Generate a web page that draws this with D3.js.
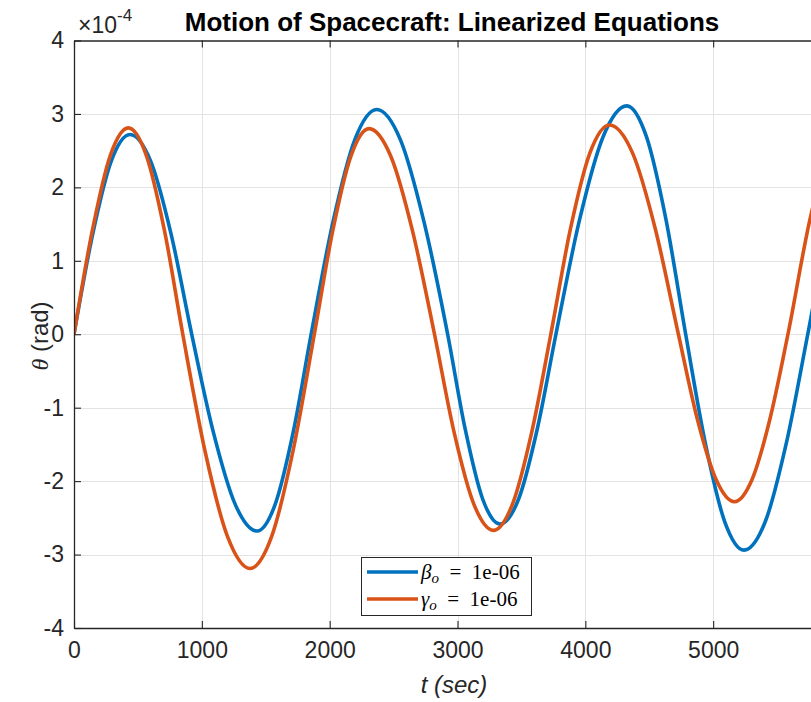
<!DOCTYPE html>
<html>
<head>
<meta charset="utf-8">
<script src="https://cdn.jsdelivr.net/npm/d3@7"></script>
<style>
  body { margin: 0; background: #fff; }
  svg { display: block; overflow: hidden; }
</style>
</head>
<body>
<script>
// Pitch angle theta (units of 1e-4 rad) versus time t (sec)
const tBeta = [0, 146, 292, 438, 599, 760, 921, 1091, 1262, 1432, 1573, 1714, 1855,
  2026, 2197, 2368, 2553, 2738, 2923, 3060, 3196, 3333, 3479, 3624, 3770,
  3955, 4139, 4324, 4478, 4631, 4785, 4937, 5090, 5242, 5408, 5574, 5740, 5900, 6000];
const thetaBeta = [0, 1.36, 2.36, 2.72, 2.36, 1.36, 0, -1.34, -2.32, -2.68, -2.32, -1.34, 0,
  1.53, 2.65, 3.06, 2.65, 1.53, 0, -1.29, -2.24, -2.585, -2.24, -1.29, 0,
  1.56, 2.69, 3.11, 2.69, 1.56, 0, -1.47, -2.55, -2.94, -2.55, -1.47, 0, 1.45, 2.2];

const tGamma = [0, 142, 283, 425, 567, 709, 851, 1026, 1202, 1377, 1545, 1712, 1880,
  2023, 2165, 2308, 2479, 2649, 2820, 2974, 3127, 3281, 3431, 3580, 3730,
  3883, 4036, 4189, 4369, 4548, 4728, 4874, 5021, 5167, 5306, 5446, 5585, 5767, 5900, 6000];
const thetaGamma = [0, 1.40, 2.43, 2.81, 2.43, 1.40, 0, -1.60, -2.76, -3.19, -2.76, -1.60, 0,
  1.40, 2.42, 2.80, 2.42, 1.40, 0, -1.34, -2.31, -2.67, -2.31, -1.34, 0,
  1.43, 2.47, 2.85, 2.47, 1.43, 0, -1.14, -1.97, -2.28, -1.97, -1.14, 0, 1.64, 2.45, 2.75];

const xTicks = [0, 1000, 2000, 3000, 4000, 5000];
const yTicks = [-4, -3, -2, -1, 0, 1, 2, 3, 4];
const seriesNames = ["beta", "gamma"];
const seriesColors = ["#0072BD", "#D95319"];

const W = 811, H = 702;
const plotLeft = 74, plotRight = 841, plotTop = 40.5, plotBottom = 628;
const ink = "#262626";

const svg = d3.select("body").append("svg").attr("width", W).attr("height", H);

const x = d3.scaleLinear().domain([0, 6000]).range([plotLeft, plotRight]);
const y = d3.scaleLinear().domain([-4, 4]).range([plotBottom, plotTop]);

// grid
const grid = svg.append("g").attr("stroke", "#e3e3e3").attr("stroke-width", 1);
grid.selectAll("line.v").data(xTicks.slice(1)).join("line").attr("class", "v")
  .attr("x1", d => Math.round(x(d)) + 0.5).attr("x2", d => Math.round(x(d)) + 0.5)
  .attr("y1", plotTop).attr("y2", plotBottom);
grid.selectAll("line.h").data(yTicks.slice(1, -1)).join("line").attr("class", "h")
  .attr("x1", plotLeft).attr("x2", plotRight)
  .attr("y1", d => Math.round(y(d)) + 0.5).attr("y2", d => Math.round(y(d)) + 0.5);

// curves
svg.append("clipPath").attr("id", "plotClip").append("rect")
  .attr("x", plotLeft).attr("y", plotTop).attr("width", plotRight - plotLeft).attr("height", plotBottom - plotTop);

const line = d3.line().x(d => x(d[0])).y(d => y(d[1])).curve(d3.curveMonotoneX);
const series = [
  d3.zip(tBeta, thetaBeta),
  d3.zip(tGamma, thetaGamma)
];
svg.append("g").attr("clip-path", "url(#plotClip)")
  .selectAll("path").data(series).join("path")
  .attr("d", line)
  .attr("fill", "none")
  .attr("stroke", (d, i) => seriesColors[i])
  .attr("stroke-width", 3.6)
  .attr("stroke-linejoin", "round");

// axes
const fontFam = "'Liberation Sans', Arial, Helvetica, sans-serif";
const plainNum = d => String(d);
function styleAxis(g) {
  g.selectAll("path.domain").attr("stroke", ink).attr("stroke-width", 1.3);
  g.selectAll(".tick line").attr("stroke", ink).attr("stroke-width", 1.1);
  g.selectAll(".tick text").attr("fill", ink).attr("font-size", 23).attr("font-family", fontFam);
}
svg.append("g").attr("transform", `translate(0,${plotBottom})`)
  .call(d3.axisBottom(x).tickValues(xTicks).tickSizeInner(-7).tickSizeOuter(0).tickPadding(14).tickFormat(plainNum))
  .call(styleAxis);
svg.append("g").attr("transform", `translate(0,${plotTop})`)
  .call(d3.axisTop(x).tickValues(xTicks).tickSizeInner(-7).tickSizeOuter(0).tickFormat(""))
  .call(styleAxis);
svg.append("g").attr("transform", `translate(${plotLeft},0)`)
  .call(d3.axisLeft(y).tickValues(yTicks).tickSizeInner(-7).tickSizeOuter(0).tickPadding(10).tickFormat(plainNum))
  .call(styleAxis);

// exponent marker
const expo = svg.append("text").attr("x", 78).attr("y", 33)
  .attr("font-family", fontFam).attr("font-size", 23).attr("fill", ink);
expo.append("tspan").text("×10");
expo.append("tspan").attr("dy", -12).attr("font-size", 17).text("-4");

// title
svg.append("text").attr("x", 452).attr("y", 31).attr("text-anchor", "middle")
  .attr("font-family", fontFam).attr("font-size", 26).attr("font-weight", "bold")
  .attr("fill", "#000").text("Motion of Spacecraft: Linearized Equations");

// axis labels
svg.append("text").attr("x", 454).attr("y", 693).attr("text-anchor", "middle")
  .attr("font-family", fontFam).attr("font-size", 24).attr("font-style", "italic")
  .attr("fill", ink).text("t (sec)");

const yl = svg.append("text").attr("transform", "translate(48,336) rotate(-90)")
  .attr("text-anchor", "middle").attr("font-family", fontFam).attr("font-size", 24).attr("fill", ink);
yl.append("tspan").attr("font-family", "'Liberation Serif', 'DejaVu Serif', serif").attr("font-style", "italic").text("θ");
yl.append("tspan").text(" (rad)");

// legend
const leg = svg.append("g");
leg.append("rect").attr("x", 361.5).attr("y", 557.5).attr("width", 170).attr("height", 58)
  .attr("fill", "#fff").attr("stroke", ink).attr("stroke-width", 1);
const legSymbols = ["β", "γ"];
seriesNames.forEach((name, i) => {
  const yy = 572 + i * 27;
  leg.append("line").attr("x1", 367).attr("x2", 418).attr("y1", yy).attr("y2", yy)
    .attr("stroke", seriesColors[i]).attr("stroke-width", 3.6);
  const t = leg.append("text").attr("x", 421).attr("y", yy + 7)
    .attr("font-family", "'Liberation Serif', 'DejaVu Serif', serif").attr("font-size", 21).attr("fill", "#000");
  t.append("tspan").attr("font-style", "italic").text(legSymbols[i]);
  t.append("tspan").attr("font-style", "italic").attr("font-size", 15).attr("dy", 4).text("o");
  t.append("tspan").attr("dy", -4).text("\u2002=\u20021e-06");
});
</script>
</body>
</html>
